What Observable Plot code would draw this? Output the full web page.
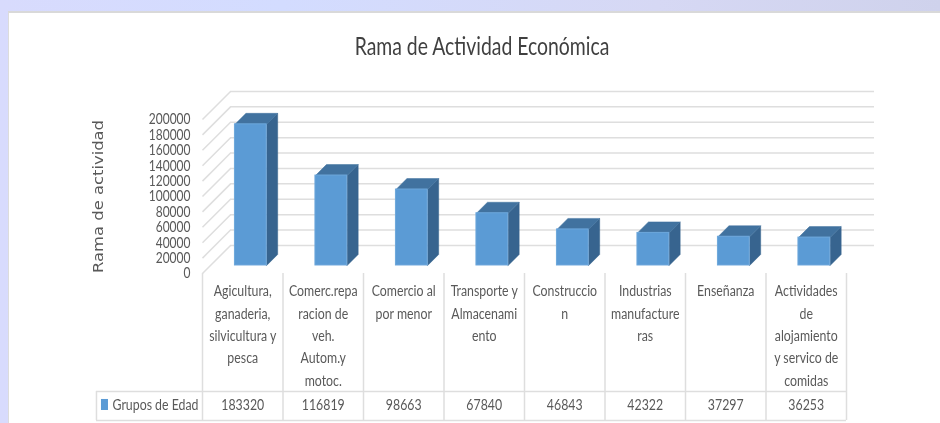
<!DOCTYPE html>
<html>
<head>
<meta charset="utf-8">
<script src="https://cdn.jsdelivr.net/npm/d3@7"></script>
<script src="https://cdn.jsdelivr.net/npm/@observablehq/plot@0.6"></script>
<style>
html,body{margin:0;padding:0;width:940px;height:423px;overflow:hidden;background:linear-gradient(90deg,#d8dbfd 0%,#d3dcff 30%,#d6d8f4 70%,#cfd2ec 100%);}
#panel{position:absolute;left:8px;top:11px;right:0;bottom:0;background:#fff;border-left:1px solid #dcdcdc;border-top:2px solid #d9d9d9;}
#title{position:absolute;left:232px;width:500px;top:30px;text-align:center;font:25px Lato,sans-serif;color:#404040;transform:scaleX(.775);}
#chart{position:absolute;left:0;top:0;filter:blur(.3px);}
svg{background:transparent!important;}
</style>
</head>
<body>
<div id="panel"></div>
<div id="chart"></div>
<div id="title">Rama de Actividad Económica</div>
<script>
const categories = ["Agicultura,\nganaderia,\nsilvicultura y\npesca","Comerc.repa\nracion de\nveh.\nAutom.y\nmotoc.","Comercio al\npor menor","Transporte y\nAlmacenami\nento","Construccio\nn","Industrias\nmanufacture\nras","Enseñanza","Actividades\nde\nalojamiento\ny servico de\ncomidas"];
const values = [183320,116819,98663,67840,46843,42322,37297,36253];
const yTicks = [0,20000,40000,60000,80000,100000,120000,140000,160000,180000,200000];
const seriesName = "Grupos de Edad";

// projection of the oblique 3D box, in data units (x: categories, y: value)
const wallX = 0.348, wallY = 36400;      // floor depth
const frontX = 0.1, frontY = 10400;      // bar front-face offset
const depthX = 0.137, depthY = 14300;    // bar depth
const halfW = 0.197;
const tableMid = -153200, tableBottom = -190900, tableLeft = -1.317;
const swatch = {x1: -1.255, x2: -1.168, y1: -163600, y2: -177900};

const idx = values.map((_, i) => i);
const L = i => i + 0.5 + frontX - halfW;
const R = i => i + 0.5 + frontX + halfW;
const poly = fn => idx.flatMap(i => fn(i).map(([x, y]) => ({i, x, y})));
const side = poly(i => [[R(i), frontY], [R(i)+depthX, frontY+depthY], [R(i)+depthX, values[i]+frontY+depthY], [R(i), values[i]+frontY]]);
const top3 = poly(i => [[L(i), values[i]+frontY], [L(i)+depthX, values[i]+frontY+depthY], [R(i)+depthX, values[i]+frontY+depthY], [R(i), values[i]+frontY]]);

const grid = "#dedede", ink = "#595959";
const font = 'Lato,sans-serif';

const plot = Plot.plot({
  width: 940, height: 423,
  marginLeft: 202, marginRight: 94, marginTop: 119, marginBottom: 150,
  x: {domain: [0, 8], axis: null},
  y: {domain: [0, 200000], axis: null},
  style: {background: "transparent"},
  marks: [
    // walls
    Plot.ruleY(yTicks, {y: d => d + wallY, x1: wallX, x2: 8 + wallX, stroke: grid, strokeWidth: 1.5}),
    Plot.link(yTicks, {x1: 0, y1: d => d, x2: wallX, y2: d => d + wallY, stroke: grid, strokeWidth: 1.5}),
    // table
    Plot.ruleX(d3.range(9), {x: d => d, y1: 0, y2: tableBottom, stroke: grid, strokeWidth: 1.5}),
    Plot.ruleX([tableLeft], {y1: tableMid, y2: tableBottom, stroke: grid, strokeWidth: 1.5}),
    Plot.ruleY([tableMid, tableBottom], {x1: tableLeft, x2: 8, stroke: grid, strokeWidth: 1.5}),
    // bars
    Plot.line(side, {x: "x", y: "y", z: "i", fill: "#37648f", stroke: "#37648f", strokeWidth: 0.5, curve: "linear-closed"}),
    Plot.line(top3, {x: "x", y: "y", z: "i", fill: "#41729f", stroke: "#41729f", strokeWidth: 0.5, curve: "linear-closed"}),
    Plot.rect(idx, {x1: L, x2: R, y1: frontY, y2: i => values[i] + frontY, fill: "#5b9bd5", stroke: "#6ea8dc", strokeWidth: 1}),
    // axis
    Plot.axisY({ticks: yTicks, tickSize: 0, tickPadding: 12, label: null, tickFormat: d => String(d), fontSize: 15, fontFamily: font, fill: ink, className: "ticks"}),
    Plot.text(["Rama de actividad"], {frameAnchor: "left", textAnchor: "middle", rotate: -90, dx: -104, fontSize: 14, fontFamily: "DejaVu Sans", fill: ink, className: "wide"}),
    // table text
    Plot.text(idx, {x: i => i + 0.5, y: 0, text: i => categories[i], lineAnchor: "top", dy: 7, lineHeight: 1.54, fontSize: 14.5, fontFamily: font, fill: ink}),
    Plot.text(idx, {x: i => i + 0.5, y: tableMid, text: i => String(values[i]), dy: 14, fontSize: 14.5, fontFamily: font, fill: ink}),
    Plot.text([seriesName], {x: -0.05, y: tableMid, textAnchor: "end", dy: 14, fontSize: 14.5, fontFamily: font, fill: ink}),
    Plot.rect([seriesName], {...swatch, fill: "#5b9bd5"})
  ]
});
document.getElementById("chart").append(plot);

// condense the text horizontally, since no narrow face is installed
function squeeze(el, k) {
  el.setAttribute("textLength", el.getComputedTextLength() * k);
  el.setAttribute("lengthAdjust", "spacingAndGlyphs");
}
plot.querySelectorAll("text").forEach(t => {
  const k = t.closest(".wide") ? 1.17 : t.closest(".ticks") ? 0.8 : 0.85;
  const spans = t.querySelectorAll("tspan");
  if (spans.length) spans.forEach(s => squeeze(s, k)); else squeeze(t, k);
});
</script>
</body>
</html>
